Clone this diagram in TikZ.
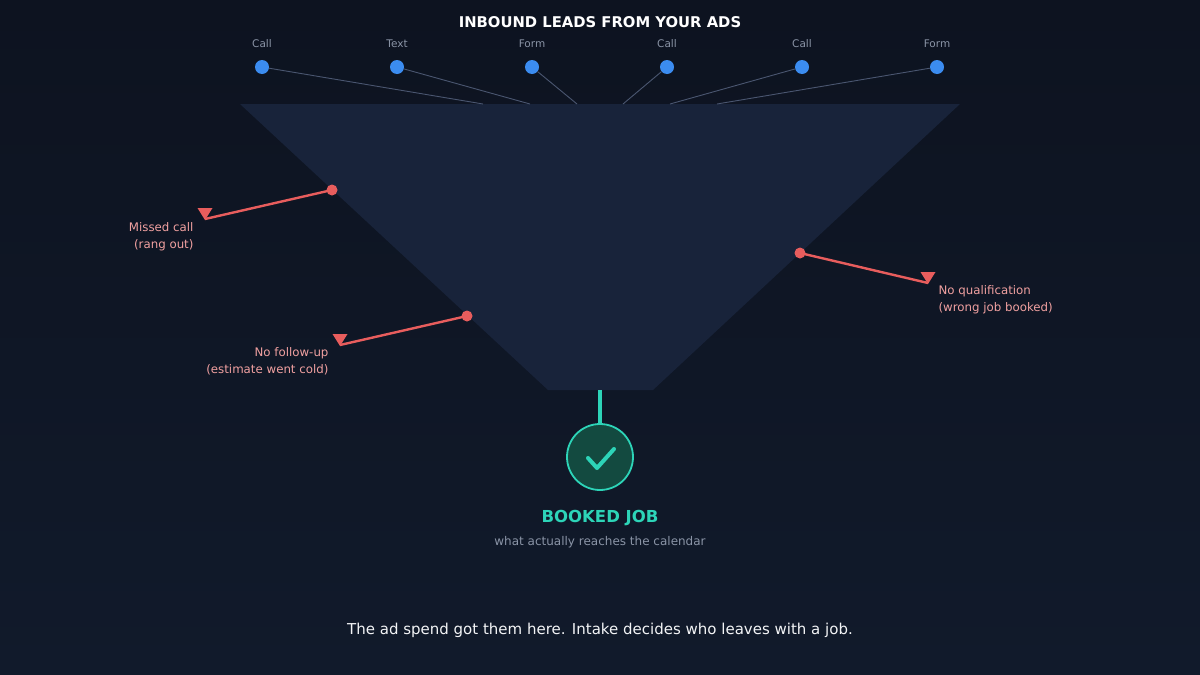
\documentclass[tikz,border=0pt]{standalone}
\usepackage{fontspec}
\setmainfont{DejaVu Sans}
\usetikzlibrary{positioning,calc}
\definecolor{bgtop}{HTML}{0D1320}
\definecolor{bgbot}{HTML}{111A2B}
\definecolor{funnel}{HTML}{18233A}
\definecolor{feed}{HTML}{4A5670}
\definecolor{lead}{HTML}{3B8CF0}
\definecolor{leak}{HTML}{E85D5D}
\definecolor{leaktext}{HTML}{F0A0A0}
\definecolor{teal}{HTML}{2DD4B8}
\definecolor{tealdark}{HTML}{134A40}
\definecolor{muted}{HTML}{8A94A6}
\tikzset{
  leaddot/.style={circle, fill=lead, inner sep=0pt, minimum size=14pt},
  leadlabel/.style={text=muted, font=\fontsize{10.5}{12}\selectfont},
  feedline/.style={draw=feed, line width=0.9pt},
  leakdot/.style={circle, fill=leak, inner sep=0pt, minimum size=11pt},
  leakline/.style={draw=leak, line width=2.4pt},
  leaklabel/.style={text=leaktext, font=\fontsize{11.8}{16.5}\selectfont, align=#1},
}
\newcommand{\leaktip}[1]{\fill[leak] ($(#1)+(-7.5,-11)$) -- ($(#1)+(7.5,-11)$) -- ($(#1)+(0,1)$) -- cycle;}
\begin{document}
\begin{tikzpicture}[x=1pt,y=-1pt]
  \shade[top color=bgtop, bottom color=bgbot] (0,0) rectangle (1200,675);
  \useasboundingbox (0,0) rectangle (1200,675);

  \node[text=white, font=\bfseries\fontsize{14.8}{17}\selectfont] (title) at (600,22) {INBOUND LEADS FROM YOUR ADS};

  % funnel
  \fill[funnel] (240,104) -- (960,104) -- (653,390) -- (548,390) -- cycle;

  % leads into the mouth
  \foreach \i/\x/\t/\m in {1/262/Call/483, 2/397/Text/530, 3/532/Form/577,
                           4/667/Call/623, 5/802/Call/670, 6/937/Form/717}
  {
    \node[leaddot] (lead\i) at (\x,67) {};
    \node[leadlabel, above=20pt of lead\i.center, anchor=base] {\t};
    \coordinate (mouth\i) at (\m,104);
    \draw[feedline] (lead\i) -- (mouth\i);
  }

  % leaks
  \node[leakdot] (missed) at (332,190) {};
  \coordinate (missedtip) at (205,219);
  \draw[leakline] (missed.center) -- (missedtip);
  \leaktip{missedtip}
  \node[leaklabel=right, anchor=north east] at (197,219) {Missed call\\(rang out)};

  \node[leakdot] (follow) at (467,316) {};
  \coordinate (followtip) at (340,345);
  \draw[leakline] (follow.center) -- (followtip);
  \leaktip{followtip}
  \node[leaklabel=right, anchor=north east] at (332,344) {No follow-up\\(estimate went cold)};

  \node[leakdot] (qualify) at (800,253) {};
  \coordinate (qualifytip) at (928,283);
  \draw[leakline] (qualify.center) -- (qualifytip);
  \leaktip{qualifytip}
  \node[leaklabel=left, anchor=north west] at (935,282) {No qualification\\(wrong job booked)};

  % outcome
  \coordinate (spout) at (600,390);
  \node[circle, draw=teal, line width=1.8pt, fill=tealdark, minimum size=66pt, inner sep=0pt] (booked) at (600,457) {};
  \draw[teal, line width=3.2pt] (spout) -- (booked);
  \draw[teal, line width=4pt, line cap=round, line join=round] (588,458) -- (597,468) -- (614,449);
  \node[text=teal, font=\bfseries\fontsize{16.5}{18}\selectfont, below=16pt of booked] (bookedtitle) {BOOKED JOB};
  \node[text=muted, font=\fontsize{12}{14}\selectfont, below=3pt of bookedtitle] {what actually reaches the calendar};

  \node[text=white!90!muted, font=\fontsize{15}{17}\selectfont] at (600,630) {The ad spend got them here. Intake decides who leaves with a job.};
\end{tikzpicture}
\end{document}
